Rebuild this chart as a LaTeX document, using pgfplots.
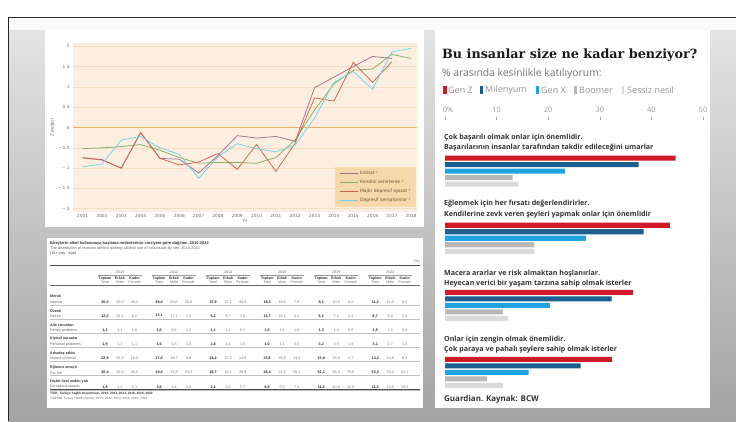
\documentclass[border=0pt]{standalone}
\usepackage{fontspec}
\setmainfont{Liberation Sans}
\newfontfamily\dv{DejaVu Sans}
\newfontfamily\dvs{DejaVu Serif}
\newfontfamily\ops{Open Sans}
\usepackage{pgfplots}
\pgfplotsset{compat=1.18}
\definecolor{peach}{HTML}{FCEFE1}
\definecolor{gridc}{HTML}{F4DCC2}
\definecolor{zeroc}{HTML}{F5AE66}
\definecolor{legfill}{HTML}{F6D9AA}
\definecolor{legtext}{HTML}{6E5236}
\definecolor{cInt}{HTML}{A0708C}
\definecolor{cKen}{HTML}{84AE62}
\definecolor{cMaj}{HTML}{C9654E}
\definecolor{cDep}{HTML}{72D2E2}
\definecolor{genz}{HTML}{D0192B}
\definecolor{mil}{HTML}{1B5F90}
\definecolor{genx}{HTML}{1FA3E3}
\definecolor{boom}{HTML}{B7B7B7}
\definecolor{sess}{HTML}{DADADA}
\definecolor{txt}{HTML}{333333}
\newcommand\tabfont{\fontsize{3.7}{4.2}\selectfont}
\newcommand\tabnum[1]{\pgfmathprintnumber[fixed,fixed zerofill,precision=1,use comma,assume math mode=true]{#1}}
\newcommand\tabrow[4]{% y, turkish, english, values
  \node[anchor=west,font=\tabfont\bfseries,text=black!80,inner sep=0] at (50,#1-5.5) {#2};
  \node[anchor=west,font=\tabfont,text=black!60,inner sep=0] at (50,#1) {#3};
  \foreach \v [count=\i from 0] in {#4} {
    \pgfmathtruncatemacro\g{int(\i/3)}
    \pgfmathtruncatemacro\s{\i-3*\g}
    \pgfmathsetmacro\xx{120+54.06*\g+(\s==0?-15:(\s==1?0:14.5))}
    \ifnum\s=0
      \node[font=\tabfont\bfseries,text=black!85,inner sep=0] at (\xx,#1) {\tabnum{\v}};
    \else
      \node[font=\tabfont,text=black!55,inner sep=0] at (\xx,#1) {\tabnum{\v}};
    \fi
  }
  \draw[black!25,line width=0.2pt] (50,#1+2.6) -- (420,#1+2.6);
}
\begin{document}
\begin{tikzpicture}
\begin{scope}[x=1bp,y=-1bp]
  \path[use as bounding box] (0,0) rectangle (736,421);
  \fill[white] (0,0) rectangle (736,421);
  \shade[top color=black!10, bottom color=black!36] (8,17) rectangle (736,421);
  \fill[black!2] (8,17) rectangle (736,30);
  \draw[black!85,line width=1bp] (8,421) -- (8,17) -- (736,17);
  % panels
  \fill[white] (45,30) rectangle (424,227);
  \fill[white] (47,237.5) rectangle (422.5,408);
  \fill[white] (435,30) rectangle (710,408);
  % ---- table ----
  \node[anchor=west,font=\fontsize{4}{4.5}\selectfont\bfseries,text=black!80,inner sep=0] at (50,243) {Bireylerin alkol kullanmaya başlama nedenlerinin cinsiyete göre dağılımı, 2010-2022};
  \node[anchor=west,font=\fontsize{3.9}{4.5}\selectfont,text=black!60,inner sep=0] at (50,248.2) {The distribution of reasons behind starting alcohol use of individuals by sex, 2010-2022};
  \node[anchor=west,font=\fontsize{3.9}{4.5}\selectfont,text=black!70,inner sep=0] at (50,253.4) {[15+ yaş - age]};
  \node[anchor=east,font=\tabfont,text=black!60,inner sep=0] at (420,262) {(\%)};
  \draw[black!70,line width=0.7bp] (50,265.7) -- (420,265.7);
  \foreach \yr [count=\k from 0] in {2010,2012,2014,2016,2019,2022} {
    \pgfmathsetmacro\cx{120+54.06*\k}
    \node[font=\tabfont,text=black!60,inner sep=0] at (\cx,272.3) {\yr};
    \draw[black!40,line width=0.25pt] (\cx-22,275.3) -- (\cx+22,275.3);
    \node[font=\tabfont\bfseries,text=black!80,inner sep=0] at (\cx-15,278.4) {Toplam};
    \node[font=\tabfont\bfseries,text=black!80,inner sep=0] at (\cx,278.4) {Erkek};
    \node[font=\tabfont\bfseries,text=black!80,inner sep=0] at (\cx+14.5,278.4) {Kadın};
    \node[font=\tabfont,text=black!55,inner sep=0] at (\cx-15,282.4) {Total};
    \node[font=\tabfont,text=black!55,inner sep=0] at (\cx,282.4) {Male};
    \node[font=\tabfont,text=black!55,inner sep=0] at (\cx+14.5,282.4) {Female};
  }
  \draw[black!60,line width=0.4pt] (50,285.3) -- (420,285.3);
  \tabrow{302}{Merak}{Interest}{30.0,30.0,30.2,39.4,40.0,36.6,37.9,37.1,40.0,18.3,19.9,7.9,9.1,10.0,6.0,11.3,11.8,9.0}
  \tabrow{316}{Özenti}{Desire}{12.0,13.4,6.2,15.1,17.1,7.2,6.2,6.7,3.5,13.7,15.1,3.4,6.1,7.2,2.4,6.7,8.0,2.9}
  \tabrow{330.3}{Aile sorunları}{Family problems}{1.2,1.1,1.6,1.0,0.8,1.2,1.1,1.2,0.7,1.5,1.5,1.8,1.3,1.4,0.8,1.5,1.3,0.4}
  \tabrow{344.3}{Kişisel sorunlar}{Personal problems}{1.9,2.1,1.1,1.6,1.8,1.0,1.8,1.6,1.5,1.0,1.1,0.0,3.2,3.5,1.9,3.1,2.7,1.4}
  \tabrow{358.7}{Arkadaş etkisi}{Impact of friend}{22.9,25.9,10.0,17.0,18.7,9.8,24.2,27.3,12.9,23.6,25.9,13.4,15.8,19.0,4.7,13.2,14.9,8.3}
  \tabrow{372.8}{Eğlence amaçlı}{For fun}{26.4,20.9,40.0,19.4,15.9,33.3,26.7,19.1,29.9,26.4,21.6,55.1,52.1,46.9,75.6,53.3,50.4,62.1}
  \tabrow{387}{Hiçbir özel neden yok}{No special reason}{1.6,1.5,2.1,3.6,3.4,4.2,2.2,2.0,2.7,6.8,5.5,7.4,11.2,10.0,12.0,11.2,10.0,15.2}
  \draw[black!70,line width=0.5bp] (50,389.6) -- (420,389.6);
  \node[anchor=west,font=\fontsize{3.2}{3.6}\selectfont\bfseries,text=black!80,inner sep=0] at (50,393.6) {TÜİK, Türkiye Sağlık Araştırması, 2010, 2012, 2014, 2016, 2019, 2022};
  \node[anchor=west,font=\fontsize{3.2}{3.6}\selectfont,text=black!60,inner sep=0] at (50,399) {TurkStat, Turkey Health Survey, 2010, 2012, 2014, 2016, 2019, 2022};
  % ---- bar chart texts ----
  \node[anchor=west,font=\dvs\bfseries\fontsize{12.8}{14}\selectfont,text=black!90,inner sep=0] at (442,55) {Bu insanlar size ne kadar benziyor?};
  \node[anchor=west,font=\ops\fontsize{10.4}{12}\selectfont,text=black!55,inner sep=0] at (442,73.5) {\% arasında kesinlikle katılıyorum:};
  \fill[genz] (443.3,86) rectangle (446.7,94);
  \node[anchor=west,font=\ops\fontsize{9}{10}\selectfont,text=black!42,inner sep=0] at (448,90) {Gen Z};
  \fill[mil] (480,86) rectangle (483.3,94);
  \node[anchor=west,font=\ops\fontsize{9}{10}\selectfont,text=black!42,inner sep=0] at (485,90) {Milenyum};
  \fill[genx] (536,86) rectangle (539.3,94);
  \node[anchor=west,font=\ops\fontsize{9}{10}\selectfont,text=black!42,inner sep=0] at (541,90) {Gen X};
  \fill[boom] (574,86) rectangle (576.7,94);
  \node[anchor=west,font=\ops\fontsize{9}{10}\selectfont,text=black!42,inner sep=0] at (579,90) {Boomer};
  \fill[sess] (621.7,86) rectangle (624.3,94);
  \node[anchor=west,font=\ops\fontsize{9}{10}\selectfont,text=black!42,inner sep=0] at (627,90) {Sessiz nesil};
  \foreach \ya/\yb/\la/\lb in {137.5/147.8/{Çok başarılı olmak onlar için önemlidir.}/{Başarılarının insanlar tarafından takdir edileceğini umarlar},
      204/214.8/{Eğlenmek için her fırsatı değerlendirirler.}/{Kendilerine zevk veren şeyleri yapmak onlar için önemlidir},
      274/284/{Macera ararlar ve risk almaktan hoşlanırlar.}/{Heyecan verici bir yaşam tarzına sahip olmak isterler},
      340/350/{Onlar için zengin olmak önemlidir.}/{Çok paraya ve pahalı şeylere sahip olmak isterler}} {
    \node[anchor=west,font=\ops\bfseries\fontsize{7.1}{9}\selectfont,text=txt,inner sep=0] at (444,\ya) {\la};
    \node[anchor=west,font=\ops\bfseries\fontsize{7.1}{9}\selectfont,text=txt,inner sep=0] at (444,\yb) {\lb};
  }
  \node[anchor=west,font=\ops\bfseries\fontsize{8}{10}\selectfont,text=txt,inner sep=0] at (444,399.5) {Guardian. Kaynak: BCW};
\end{scope}
% ---- line chart ----
\begin{axis}[
  at={(73bp,-212bp)}, anchor=south west,
  scale only axis, width=344bp, height=169bp,
  xmin=2000.5, xmax=2018.3, ymin=-2.08, ymax=2.08,
  axis background/.style={fill=peach},
  axis line style={draw=none},
  xtick={2001,2002,...,2018},
  ytick={-2,-1.5,-1,-0.5,0,0.5,1,1.5,2},
  yticklabels={$-$2,$-$1.5,$-$1,$-$0.5,0,0.5,1,1.5,2},
  major tick length=0pt,
  ymajorgrids, grid style={gridc,line width=0.6bp},
  extra y ticks={0}, extra y tick labels={},
  extra y tick style={grid style={zeroc,line width=1.6bp}},
  /pgf/number format/1000 sep={},
  /pgf/number format/assume math mode=true,
  tick label style={font=\dv\fontsize{4.3}{5}\selectfont, text=black!60},
  xticklabel style={yshift=1bp},
  xlabel={Yıl}, ylabel={Z-değeri},
  label style={font=\dv\fontsize{4.3}{5}\selectfont, text=black!60},
  xlabel style={yshift=5bp},
  ylabel style={yshift=-4bp},
  legend style={at={(0.999,0.03)}, anchor=south east, fill=legfill, draw=none,
    font=\dv\fontsize{4.5}{5.4}\selectfont, text=legtext, inner xsep=4bp, inner ysep=2bp,
    row sep=0bp, legend cell align=left},
  legend image code/.code={\draw[#1] (0bp,0bp) -- (18bp,0bp);},
  every axis plot/.append style={line width=0.75bp},
]
\addplot[cInt] coordinates {(2001,-0.74) (2002,-0.79) (2003,-1.00) (2004,-0.12) (2005,-0.76) (2006,-0.78) (2007,-1.12) (2008,-0.69) (2009,-0.20) (2010,-0.26) (2011,-0.22) (2012,-0.34) (2013,0.98) (2014,1.24) (2015,1.50) (2016,1.75) (2017,1.70)};
\addlegendentry{İntihar ¹}
\addplot[cKen] coordinates {(2001,-0.52) (2002,-0.50) (2003,-0.47) (2004,-0.42) (2005,-0.56) (2006,-0.74) (2007,-0.88) (2008,-0.86) (2009,-0.86) (2010,-0.88) (2011,-0.74) (2012,-0.30) (2013,0.43) (2014,1.07) (2015,1.41) (2016,1.44) (2017,1.80) (2018,1.70)};
\addlegendentry{Kendini zehirleme ¹}
\addplot[cMaj] coordinates {(2001,-0.75) (2002,-0.80) (2003,-1.00) (2004,-0.13) (2005,-0.76) (2006,-0.92) (2007,-0.85) (2008,-0.64) (2009,-1.03) (2010,-0.42) (2011,-1.08) (2012,-0.38) (2013,0.73) (2014,0.65) (2015,1.60) (2016,1.11) (2017,1.62)};
\addlegendentry{Majör depresif epizot ²}
\addplot[cDep] coordinates {(2001,-0.97) (2002,-0.90) (2003,-0.31) (2004,-0.22) (2005,-0.50) (2006,-0.66) (2007,-1.25) (2008,-0.72) (2009,-0.40) (2010,-0.52) (2011,-0.60) (2012,-0.43) (2013,0.23) (2014,1.11) (2015,1.38) (2016,0.94) (2017,1.86) (2018,1.95)};
\addlegendentry{Depresif semptomlar ²}
\end{axis}
% ---- bar chart ----
\begin{axis}[
  at={(445bp,-120bp)}, anchor=north west,
  scale only axis, width=258bp, height=272.8bp,
  xmin=0, xmax=50, ymin=-0.57, ymax=3.5, y dir=reverse,
  xbar, bar width=0.075, bar shift=0pt,
  axis line style={draw=none},
  ytick=\empty,
  xtick={0,10,20,30,40,50},
  xticklabels={0\rlap{\%},10,20,30,40,50},
  xtick pos=upper, xticklabel pos=upper,
  tick align=outside, major tick length=3.5bp,
  tick style={draw=black!35,line width=0.4bp},
  /pgf/number format/assume math mode=true,
  xticklabel style={font=\ops\fontsize{7.5}{9}\selectfont, text=black!40},
  clip=false,
]
\addplot[fill=genz,draw=none] coordinates {(44.7,0) (43.6,1) (36.4,2) (32.4,3)};
\addplot[fill=mil,draw=none] coordinates {(37.5,0.097) (38.5,1.097) (32.3,2.097) (26.3,3.097)};
\addplot[fill=genx,draw=none] coordinates {(23.3,0.194) (27.3,1.194) (20.3,2.194) (16.2,3.194)};
\addplot[fill=boom,draw=none] coordinates {(13.1,0.291) (17.3,1.291) (11.2,2.291) (8.1,3.291)};
\addplot[fill=sess,draw=none] coordinates {(14.2,0.388) (17.3,1.388) (12.2,2.388) (11.2,3.388)};
\end{axis}
\end{tikzpicture}
\end{document}
